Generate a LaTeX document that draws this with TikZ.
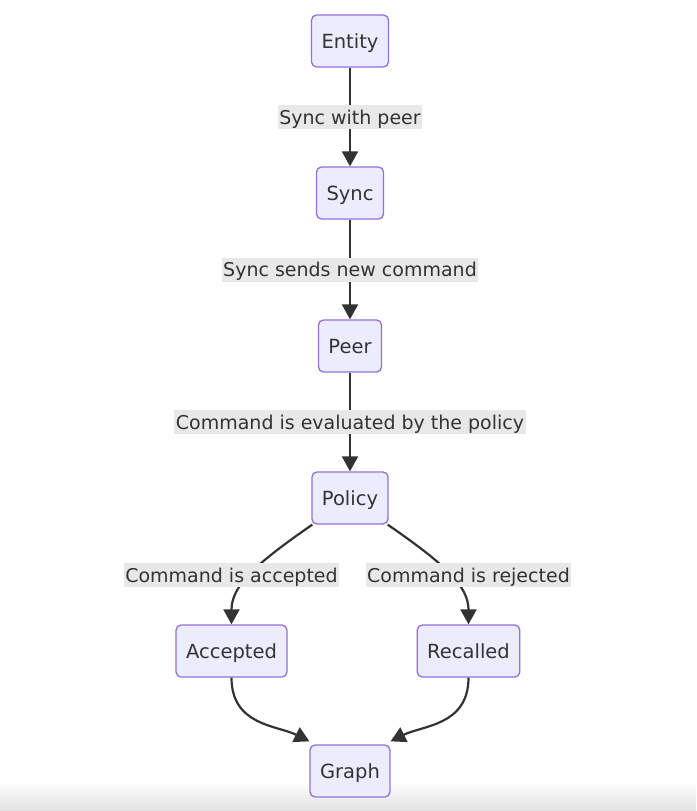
\documentclass[tikz,border=0pt]{standalone}
\usepackage{fontspec}
\setmainfont{DejaVu Sans}
\usetikzlibrary{arrows.meta}
\definecolor{nodefill}{HTML}{ECECFF}
\definecolor{nodeline}{HTML}{9370DB}
\definecolor{ink}{HTML}{333333}
\definecolor{labelbg}{HTML}{E8E8E8}
\begin{document}
\begin{tikzpicture}[x=1pt,y=-1pt,
  box/.style={draw=nodeline, fill=nodefill, line width=1.3pt, rounded corners=5pt,
    minimum height=52pt, inner xsep=10pt, text=ink, text height=17pt, text depth=2pt,
    font=\fontsize{19.5}{23}\selectfont},
  elabel/.style={fill=labelbg, text=ink, inner xsep=1.5pt, inner ysep=3pt,
    text height=16pt, text depth=2pt, font=\fontsize{19}{23}\selectfont},
  edge/.style={draw=ink, line width=2.2pt, -{Triangle[length=15pt,width=16pt]}}
]
\useasboundingbox (0,0) rectangle (696,811);
\fill[white] (0,0) rectangle (696,811);
\shade[top color=white, bottom color=black!12] (0,782) rectangle (696,811);

\node[box] (entity) at (350,41) {Entity};
\node[box] (sync) at (350,193) {Sync};
\node[box] (peer) at (350,346) {Peer};
\node[box] (policy) at (350,498) {Policy};
\node[box] (accepted) at (231.5,651) {Accepted};
\node[box] (recalled) at (468.5,651) {Recalled};
\node[box] (graph) at (350,771) {Graph};

\draw[edge] (entity) -- node[elabel] {Sync with peer} (sync);
\draw[edge] (sync) -- node[elabel] {Sync sends new command} (peer);
\draw[edge] (peer) -- node[elabel] {Command is evaluated by the policy} (policy);

\draw[edge] ([xshift=1pt]policy.south west) .. controls +(-58,40) and +(0,-38) .. (accepted.north);
\draw[edge] ([xshift=-1pt]policy.south east) .. controls +(58,40) and +(0,-38) .. (recalled.north);
\node[elabel] (lacc) at (231.5,575) {Command is accepted};
\node[elabel] (lrej) at (468.5,575) {Command is rejected};

\draw[edge] (accepted.south) .. controls +(0,48) and +(-32,-16) .. ([yshift=3pt]graph.north west);
\draw[edge] (recalled.south) .. controls +(0,48) and +(32,-16) .. ([yshift=3pt]graph.north east);
\end{tikzpicture}
\end{document}
